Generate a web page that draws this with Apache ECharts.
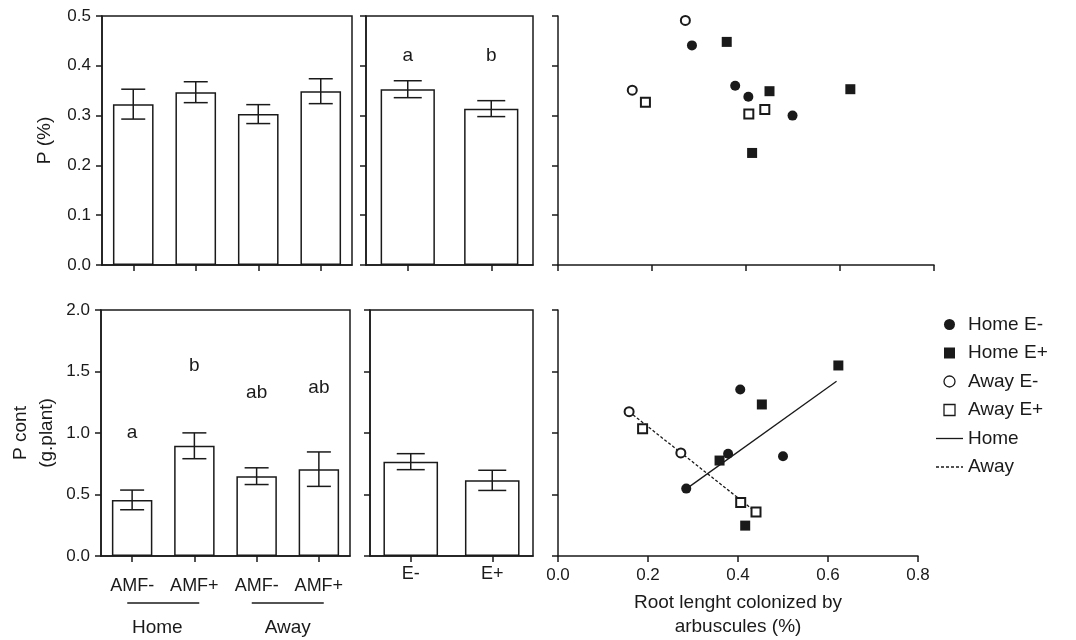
<!DOCTYPE html>
<html>
<head>
<meta charset="utf-8">
<script src="https://cdn.jsdelivr.net/npm/echarts@6/dist/echarts.min.js"></script>
<style>
html, body { margin: 0; padding: 0; background: #fff; }
#chart { width: 1076px; height: 640px; }
</style>
</head>
<body>
<div id="chart"></div>
<script>
// categories
var amfCats = ['Home AMF-', 'Home AMF+', 'Away AMF-', 'Away AMF+'];
var endoCats = ['E-', 'E+'];
var groups = ['Home', 'Away'];

// P (%) bars
var pAmf = [0.323, 0.347, 0.303, 0.349];
var pAmfErr = [0.030, 0.021, 0.019, 0.025];
var pEndo = [0.353, 0.314];
var pEndoErr = [0.017, 0.016];
var pEndoLetters = ['a', 'b'];
var pEndoLetterY = [0.42, 0.42];

// P cont bars
var pcAmf = [0.456, 0.896, 0.649, 0.706];
var pcAmfErr = [0.080, 0.105, 0.068, 0.140];
var pcAmfLetters = ['a', 'b', 'ab', 'ab'];
var pcAmfLetterY = [1.0, 1.55, 1.33, 1.37];
var pcEndo = [0.767, 0.615];
var pcEndoErr = [0.065, 0.082];

// scatter, P (%) vs arbuscules
var homeEminusP = [[0.285, 0.441], [0.377, 0.360], [0.405, 0.338], [0.499, 0.300]];
var homeEplusP = [[0.359, 0.448], [0.450, 0.349], [0.622, 0.353], [0.413, 0.225]];
var awayEminusP = [[0.271, 0.491], [0.158, 0.351]];
var awayEplusP = [[0.186, 0.327], [0.406, 0.303], [0.440, 0.312]];

// scatter, P cont vs arbuscules
var homeEminusPc = [[0.405, 1.353], [0.378, 0.832], [0.285, 0.548], [0.500, 0.811]];
var homeEplusPc = [[0.623, 1.549], [0.453, 1.232], [0.359, 0.776], [0.416, 0.247]];
var awayEminusPc = [[0.158, 1.173], [0.273, 0.838]];
var awayEplusPc = [[0.188, 1.034], [0.406, 0.435], [0.440, 0.357]];
var homeFit = [[0.289, 0.556], [0.619, 1.420]];
var awayFit = [[0.158, 1.173], [0.441, 0.354]];

var FONT = 'Liberation Sans, Arial, sans-serif';
var INK = '#1a1a1a';

// legend icons
var ICON_CIRCLE = 'path://M5,0A5,5,0,1,1,4.99,0Z';
var ICON_SQUARE = 'path://M0,0H10V10H0Z';
var ICON_SOLID = 'path://M0,0H27V1.3H0Z';
var ICON_DASH = 'path://M0,0H3V1.3H0Z M5,0H8V1.3H5Z M10,0H13V1.3H10Z M15,0H18V1.3H15Z M20,0H23V1.3H20Z M25,0H27V1.3H25Z';

var chart = echarts.init(document.getElementById('chart'));

function catAxis(grid, cats, showLabel, margin) {
    return {
        type: 'category', gridIndex: grid, data: cats,
        axisLine: { lineStyle: { color: INK, width: 1.5 } },
        axisTick: { show: true, interval: 0, alignWithLabel: true, length: 6, lineStyle: { color: INK, width: 1.5 } },
        axisLabel: {
            show: showLabel, interval: 0, margin: margin, fontSize: 18, color: INK, fontFamily: FONT,
            formatter: function (v) { return v.replace(/^(Home|Away) /, ''); }
        }
    };
}

function valAxis(grid, max, interval, showLabel, extra) {
    var ax = {
        type: 'value', gridIndex: grid, min: 0, max: max, interval: interval,
        splitLine: { show: false },
        axisLine: { show: true, lineStyle: { color: INK, width: 1.5 } },
        axisTick: { show: true, length: 6, lineStyle: { color: INK, width: 1.5 } },
        axisLabel: {
            show: showLabel, margin: 11, fontSize: 17, color: INK, fontFamily: FONT,
            formatter: function (v) { return v.toFixed(1); }
        }
    };
    for (var k in extra) ax[k] = extra[k];
    return ax;
}

function bars(idx, vals, width) {
    return {
        type: 'bar', xAxisIndex: idx, yAxisIndex: idx, data: vals, barWidth: width,
        itemStyle: { color: '#fff', borderColor: INK, borderWidth: 1.5 },
        silent: true
    };
}

function errorBars(idx, vals, errs, cap) {
    return {
        type: 'custom', xAxisIndex: idx, yAxisIndex: idx, z: 5, silent: true,
        data: vals.map(function (v, i) { return [i, v - errs[i], v + errs[i]]; }),
        renderItem: function (params, api) {
            var lo = api.coord([api.value(0), api.value(1)]);
            var hi = api.coord([api.value(0), api.value(2)]);
            var h = cap / 2;
            var st = { stroke: INK, lineWidth: 1.5 };
            return {
                type: 'group', children: [
                    { type: 'line', shape: { x1: lo[0], y1: lo[1], x2: hi[0], y2: hi[1] }, style: st },
                    { type: 'line', shape: { x1: lo[0] - h, y1: lo[1], x2: lo[0] + h, y2: lo[1] }, style: st },
                    { type: 'line', shape: { x1: hi[0] - h, y1: hi[1], x2: hi[0] + h, y2: hi[1] }, style: st }
                ]
            };
        }
    };
}

function letters(idx, ys, txt) {
    return {
        type: 'custom', xAxisIndex: idx, yAxisIndex: idx, z: 6, silent: true,
        data: ys.map(function (y, i) { return [i, y]; }),
        renderItem: function (params, api) {
            var p = api.coord([api.value(0), api.value(1)]);
            return {
                type: 'text', x: p[0], y: p[1],
                style: { text: txt[params.dataIndex], align: 'center', verticalAlign: 'middle',
                         fontSize: 19, fontFamily: FONT, fill: INK }
            };
        }
    };
}

function scat(idx, name, data, symbol, size) {
    var hollow = symbol.indexOf('empty') === 0;
    return {
        type: 'scatter', name: name, xAxisIndex: idx, yAxisIndex: idx, data: data,
        symbol: symbol, symbolSize: size, z: 4,
        itemStyle: { color: INK, borderColor: INK, borderWidth: hollow ? 1.5 : 0, opacity: 1 }
    };
}

function fitLine(idx, name, data, dash) {
    return {
        type: 'line', name: name, xAxisIndex: idx, yAxisIndex: idx, data: data,
        symbol: 'none', silent: true, z: 3,
        lineStyle: { color: INK, width: 1.3, type: dash ? [3, 2] : 'solid' },
        itemStyle: { color: INK }
    };
}

chart.setOption({
    animation: false,
    backgroundColor: '#fff',
    textStyle: { fontFamily: FONT },
    grid: [
        { left: 102, top: 16, width: 250, height: 249, show: true, borderColor: INK, borderWidth: 1.5 },
        { left: 366, top: 16, width: 167, height: 249, show: true, borderColor: INK, borderWidth: 1.5 },
        { left: 558, top: 16, width: 376, height: 249 },
        { left: 101, top: 310, width: 249, height: 246, show: true, borderColor: INK, borderWidth: 1.5 },
        { left: 370, top: 310, width: 163, height: 246, show: true, borderColor: INK, borderWidth: 1.5 },
        { left: 558, top: 310, width: 360, height: 246 }
    ],
    xAxis: [
        catAxis(0, amfCats, false, 10),
        catAxis(1, endoCats, false, 10),
        valAxis(2, 0.8, 0.2, false, {}),
        catAxis(3, amfCats, true, 21),
        catAxis(4, endoCats, true, 9),
        valAxis(5, 0.8, 0.2, true, {
            name: 'Root lenght colonized by\narbuscules (%)', nameLocation: 'middle', nameGap: 35,
            nameTextStyle: { fontSize: 19, color: INK, fontFamily: FONT, lineHeight: 24 }
        })
    ],
    yAxis: [
        valAxis(0, 0.5, 0.1, true, {
            name: 'P (%)', nameLocation: 'middle', nameGap: 48,
            nameTextStyle: { fontSize: 19, color: INK, fontFamily: FONT }
        }),
        valAxis(1, 0.5, 0.1, false, {}),
        valAxis(2, 0.5, 0.1, false, {}),
        valAxis(3, 2, 0.5, true, {
            name: 'P cont\n(g.plant)', nameLocation: 'middle', nameGap: 41,
            nameTextStyle: { fontSize: 19, color: INK, fontFamily: FONT, lineHeight: 26 }
        }),
        valAxis(4, 2, 0.5, false, {}),
        valAxis(5, 2, 0.5, false, {})
    ],
    legend: {
        orient: 'vertical', left: 931, top: 310,
        itemWidth: 27, itemHeight: 11, itemGap: 9.5,
        textStyle: { fontSize: 19, color: INK, fontFamily: FONT },
        selectedMode: false,
        data: [
            { name: 'Home E-', icon: ICON_CIRCLE, itemStyle: { color: INK, borderWidth: 0 } },
            { name: 'Home E+', icon: ICON_SQUARE, itemStyle: { color: INK, borderWidth: 0 } },
            { name: 'Away E-', icon: ICON_CIRCLE, itemStyle: { color: '#fff', borderColor: INK, borderWidth: 1.3 } },
            { name: 'Away E+', icon: ICON_SQUARE, itemStyle: { color: '#fff', borderColor: INK, borderWidth: 1.3 } },
            { name: 'Home', icon: ICON_SOLID, itemStyle: { color: INK, borderWidth: 0 } },
            { name: 'Away', icon: ICON_DASH, itemStyle: { color: INK, borderWidth: 0 } }
        ]
    },
    series: [
        bars(0, pAmf, '65%'),
        errorBars(0, pAmf, pAmfErr, 24),
        bars(1, pEndo, '65%'),
        errorBars(1, pEndo, pEndoErr, 28),
        letters(1, pEndoLetterY, pEndoLetters),

        scat(2, 'Home E-', homeEminusP, 'circle', 10),
        scat(2, 'Home E+', homeEplusP, 'rect', 10),
        scat(2, 'Away E-', awayEminusP, 'emptyCircle', 9),
        scat(2, 'Away E+', awayEplusP, 'emptyRect', 9),

        bars(3, pcAmf, '65%'),
        errorBars(3, pcAmf, pcAmfErr, 24),
        letters(3, pcAmfLetterY, pcAmfLetters),
        bars(4, pcEndo, '67%'),
        errorBars(4, pcEndo, pcEndoErr, 28),

        fitLine(5, 'Home', homeFit, false),
        fitLine(5, 'Away', awayFit, true),
        scat(5, 'Home E-', homeEminusPc, 'circle', 10),
        scat(5, 'Home E+', homeEplusPc, 'rect', 10),
        scat(5, 'Away E-', awayEminusPc, 'emptyCircle', 9),
        scat(5, 'Away E+', awayEplusPc, 'emptyRect', 9)
    ]
});

// group labels (Home / Away) under the AMF categories of the lower-left panel
var gfx = [];
var baseY = chart.convertToPixel({ yAxisIndex: 3 }, 0);
groups.forEach(function (g, gi) {
    var a = chart.convertToPixel({ xAxisIndex: 3 }, amfCats[gi * 2]);
    var b = chart.convertToPixel({ xAxisIndex: 3 }, amfCats[gi * 2 + 1]);
    var mid = (a + b) / 2;
    gfx.push({
        type: 'line', silent: true,
        shape: { x1: mid - 36, y1: baseY + 47, x2: mid + 36, y2: baseY + 47 },
        style: { stroke: INK, lineWidth: 1.3 }
    });
    gfx.push({
        type: 'text', silent: true, x: mid - 6 + gi * 6, y: baseY + 72,
        style: { text: g, align: 'center', verticalAlign: 'middle', fontSize: 19, fontFamily: FONT, fill: INK }
    });
});
chart.setOption({ graphic: gfx });
</script>
</body>
</html>
